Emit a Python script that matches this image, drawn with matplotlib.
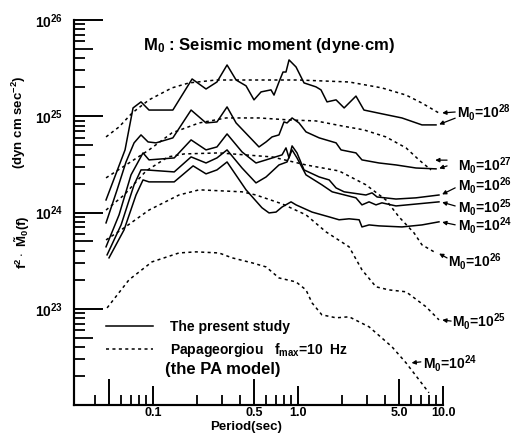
import matplotlib
matplotlib.use("Agg")
import matplotlib.pyplot as plt
from matplotlib.ticker import NullFormatter, NullLocator

plt.rcParams['font.family'] = ['Liberation Sans', 'DejaVu Sans']
plt.rcParams['font.weight'] = 'bold'
plt.rcParams['mathtext.fontset'] = 'custom'
plt.rcParams['mathtext.rm'] = 'Liberation Sans'
plt.rcParams['mathtext.bf'] = 'Liberation Sans:bold'
plt.rcParams['mathtext.it'] = 'Liberation Sans:italic'
plt.rcParams['mathtext.default'] = 'bf'

# ---- the present study (solid), period in s, f^2 M0(f) in dyn cm s^-2 ----
s28_T = [0.0474, 0.0641, 0.0728, 0.0826, 0.0938, 0.137, 0.186, 0.232, 0.276, 0.324,
         0.374, 0.438, 0.497, 0.556, 0.651, 0.683, 0.739, 0.788, 0.826, 0.867,
         0.969, 1.10, 1.33, 1.44, 1.585, 1.83, 2.08, 2.51, 2.85, 3.79, 5.21, 7.16, 8.95]
s28_V = [1.35e24, 4.47e24, 1.22e25, 1.41e25, 1.16e25, 1.16e25, 2.44e25, 1.92e25, 2.27e25, 3.41e25,
         2.38e25, 2.07e25, 1.48e25, 1.79e25, 1.88e25, 1.66e25, 2.27e25, 2.88e25, 2.88e25, 3.85e25,
         3.25e25, 2.22e25, 2.02e25, 1.88e25, 1.41e25, 1.48e25, 1.22e25, 1.62e25, 1.16e25, 1.06e25,
         9.6e24, 8.13e24, 8.13e24]

s27_T = [0.0474, 0.0565, 0.0651, 0.0740, 0.0826, 0.0924, 0.1049, 0.137, 0.183, 0.232,
         0.276, 0.324, 0.374, 0.538, 0.602, 0.662, 0.739, 0.800, 0.840, 0.910,
         1.016, 1.135, 1.40, 1.83, 1.98, 2.51, 2.76, 3.62, 4.74, 6.51, 8.95]
s27_V = [7.8e23, 1.72e24, 3.35e24, 5.29e24, 6.40e24, 5.41e24, 5.29e24, 5.96e24, 1.16e25, 8.52e24,
         8.73e24, 1.25e25, 8.52e24, 4.80e24, 5.41e24, 6.10e24, 6.40e24, 8.73e24, 8.52e24, 9.6e24,
         8.52e24, 6.88e24, 5.96e24, 5.29e24, 4.47e24, 4.16e24, 3.52e24, 3.27e24, 3.12e24, 2.90e24,
         2.84e24]

s26_T = [0.0474, 0.0583, 0.0705, 0.0853, 0.0938, 0.140, 0.183, 0.232, 0.276, 0.324,
         0.411, 0.513, 0.602, 0.776, 0.826, 0.867, 0.910, 0.984, 1.10, 1.40,
         1.64, 1.83, 2.08, 2.94, 3.24, 3.51, 4.74, 6.51, 9.38]
s26_V = [4.40e23, 9.45e23, 2.46e24, 4.16e24, 3.52e24, 3.69e24, 5.68e24, 4.47e24, 4.80e24, 6.55e24,
         4.26e24, 3.27e24, 3.52e24, 3.97e24, 4.69e24, 3.69e24, 4.92e24, 4.16e24, 2.77e24, 2.34e24,
         2.18e24, 1.80e24, 1.64e24, 1.52e24, 1.60e24, 1.45e24, 1.38e24, 1.42e24, 1.52e24]

s25_T = [0.0482, 0.0602, 0.0740, 0.0826, 0.0895, 0.140, 0.183, 0.232, 0.276, 0.324,
         0.411, 0.513, 0.602, 0.739, 0.840, 0.910, 0.984, 1.135, 1.46, 1.72,
         2.51, 2.76, 3.09, 3.45, 3.79, 4.74, 9.38]
s25_V = [3.63e23, 7.43e23, 1.94e24, 2.77e24, 2.77e24, 2.64e24, 3.78e24, 3.27e24, 3.69e24, 4.47e24,
         2.90e24, 2.03e24, 2.34e24, 3.12e24, 3.35e24, 4.47e24, 3.69e24, 2.46e24, 1.94e24, 1.64e24,
         1.42e24, 1.20e24, 1.29e24, 1.20e24, 1.26e24, 1.17e24, 1.29e24]

s24_T = [0.0497, 0.0631, 0.0763, 0.0853, 0.0938, 0.140, 0.189, 0.232, 0.276, 0.324,
         0.438, 0.564, 0.631, 0.705, 0.776, 0.895, 0.969, 1.25, 1.64, 1.92,
         2.25, 2.64, 2.76, 3.09, 3.62, 5.21, 7.16, 9.38]
s24_V = [3.38e23, 6.6e23, 1.52e24, 2.18e24, 2.08e24, 2.08e24, 3.05e24, 2.52e24, 2.77e24, 3.35e24,
         1.72e24, 1.12e24, 9.9e23, 1.01e24, 1.14e24, 1.29e24, 1.20e24, 1.01e24, 9.0e23, 8.4e23,
         8.6e23, 8.4e23, 7.08e23, 7.43e23, 7.26e23, 7.08e23, 7.43e23, 8.0e23]

# ---- Papageorgiou fmax = 10 Hz, PA model (dashed) ----
d28_T = [0.0474, 0.0583, 0.0717, 0.0938, 0.135, 0.177, 0.272, 0.538, 1.016, 2.25, 3.79, 5.56, 7.16, 9.38]
d28_V = [6.10e24, 7.75e24, 1.08e25, 1.48e25, 1.97e25, 2.22e25, 2.38e25, 2.38e25, 2.38e25, 2.27e25,
         1.97e25, 1.66e25, 1.37e25, 1.08e25]

d27_T = [0.0474, 0.0651, 0.0938, 0.135, 0.208, 0.319, 0.538, 0.867, 1.33, 2.01, 2.85, 4.04, 5.56, 6.83, 8.26]
d27_V = [2.29e24, 3.12e24, 4.47e24, 6.71e24, 8.52e24, 9.6e24, 9.6e24, 9.16e24, 8.94e24, 7.93e24,
         7.21e24, 6.10e24, 4.69e24, 3.52e24, 2.77e24]

d26_T = [0.0474, 0.0631, 0.0895, 0.127, 0.164, 0.285, 0.662, 1.135, 1.92, 2.94, 4.04, 4.97, 6.31, 7.16, 8.95]
d26_V = [1.06e24, 1.52e24, 2.70e24, 3.78e24, 4.06e24, 4.16e24, 3.78e24, 3.12e24, 2.70e24, 1.94e24,
         1.35e24, 9.0e23, 6.14e23, 4.61e23, 3.80e23]

d25_T = [0.0474, 0.0631, 0.0938, 0.151, 0.208, 0.411, 0.513, 0.776, 1.135, 1.56, 2.25, 2.76, 3.45,
         4.24, 5.56, 7.63, 9.38]
d25_V = [5.19e23, 6.92e23, 1.06e24, 1.52e24, 1.72e24, 1.64e24, 1.52e24, 1.23e24, 9.45e23, 6.29e23,
         4.40e23, 2.54e23, 1.69e23, 1.57e23, 1.50e23, 1.05e23, 7.67e22]

d24_T = [0.0482, 0.0683, 0.0984, 0.151, 0.198, 0.285, 0.351, 0.482, 0.602, 0.739, 0.969, 1.135, 1.25,
         1.46, 1.83, 2.25, 3.09, 4.45, 5.56, 6.83, 8.0]
d24_V = [1.02e23, 2.00e23, 3.07e23, 3.80e23, 3.90e23, 3.80e23, 3.38e23, 3.00e23, 2.72e23, 2.09e23,
         1.90e23, 1.57e23, 1.15e23, 8.65e22, 8.05e22, 8.25e22, 6.49e22, 4.02e22, 2.74e22, 1.83e22, 1.34e22]

solid = [(s28_T, s28_V), (s27_T, s27_V), (s26_T, s26_V), (s25_T, s25_V), (s24_T, s24_V)]
dashed = [(d28_T, d28_V), (d27_T, d27_V), (d26_T, d26_V), (d25_T, d25_V), (d24_T, d24_V)]

x_labelled = [0.1, 1.0, 10.0]
x_labels = ['0.1', '1.0', '10.0']
x_half = [0.05, 0.5, 5.0]
x_half_labels = ['', '0.5', '5.0']
x_minor = [0.04, 0.06, 0.07, 0.08, 0.09, 0.2, 0.3, 0.4, 0.6, 0.7, 0.8, 0.9,
           2, 3, 4, 6, 7, 8, 9]
y_major = [1e22, 1e23, 1e24, 1e25, 1e26]
y_labels = ['', '$10^{23}$', '$10^{24}$', '$10^{25}$', '$10^{26}$']
y_minor = [k * 10.0 ** e for e in range(22, 26) for k in (2, 3, 4, 6, 7, 8, 9)]
y_half = [5 * 10.0 ** e for e in range(22, 26)]

DASH = (0, (2.0, 2.2))
LW = 1.1
FS = 10

fig = plt.figure(figsize=(5.13, 4.36), dpi=100)
ax = fig.add_axes([74 / 513, 1 - 405 / 436, 369 / 513, 385 / 436])

for i, (T, V) in enumerate(solid):
    ax.plot(T, V, color='k', lw=LW, label='The present study' if i == 0 else '_nolegend_')
for i, (T, V) in enumerate(dashed):
    ax.plot(T, V, color='k', lw=LW, ls=DASH,
            label=r'Papageorgiou   f$_{max}$=10  Hz' if i == 0 else '_nolegend_')

ax.set_xscale('log')
ax.set_yscale('log')
ax.set_xlim(0.0285, 10.0)
ax.set_ylim(1e22, 1e26)
for s in ['top', 'right']:
    ax.spines[s].set_visible(False)
for s in ['left', 'bottom']:
    ax.spines[s].set_linewidth(1.5)

ax.set_xticks(x_labelled, x_labels)
ax.set_xticks(x_minor, minor=True)
ax.xaxis.set_minor_formatter(NullFormatter())
ax.tick_params(axis='x', which='major', direction='in', length=14, width=1.4, labelsize=9, pad=1.5)
ax.tick_params(axis='x', which='minor', direction='in', length=7, width=1.3)

ax.set_yticks(y_major, y_labels)
ax.set_yticks(y_minor, minor=True)
ax.yaxis.set_minor_formatter(NullFormatter())
ax.tick_params(axis='y', which='major', direction='in', length=21, width=1.4, labelsize=FS, pad=8)
ax.tick_params(axis='y', which='minor', direction='in', length=8, width=1.3)

# longer ticks at 5 x decade
secx = ax.secondary_xaxis('bottom')
secx.set_xticks(x_half, x_half_labels)
secx.xaxis.set_minor_locator(NullLocator())
secx.tick_params(direction='in', length=19, width=1.4, labelsize=9, pad=1.5)
secx.spines['bottom'].set_linewidth(1.5)

secy = ax.secondary_yaxis('left')
secy.set_yticks(y_half, ['' for _ in y_half])
secy.yaxis.set_minor_locator(NullLocator())
secy.tick_params(direction='in', length=14, width=1.3)
secy.spines['left'].set_linewidth(1.5)

ax.set_xlabel('Period(sec)', fontsize=9.5, fontweight='bold')
ax.xaxis.set_label_coords(0.467, -0.041)

fig.text(0.036, 1 - 122 / 436, r'(dyn cm sec$^{-2}$)', rotation=90, ha='center', va='center', fontsize=9.5)
fig.text(0.043, 1 - 242 / 436, r'f$^{2}\cdot\ \tilde{M}_0$(f)', rotation=90, ha='center', va='center', fontsize=9.5)

ax.text(0.528, 0.935, r'M$_0$ : Seismic moment (dyne$\cdot$cm)', transform=ax.transAxes,
        ha='center', va='center', fontsize=12)

ax.legend(loc='upper left', bbox_to_anchor=(0.087, 0.222), frameon=False, borderpad=0,
          borderaxespad=0, handlelength=3.4, handletextpad=1.2, labelspacing=0.55,
          prop={'weight': 'bold', 'size': FS})
ax.text(0.247, 0.091, '(the PA model)', transform=ax.transAxes, ha='left', va='center', fontsize=12)


def arrow(tip, tail, tipcoords='data'):
    ax.annotate('', xy=tip, xycoords=tipcoords, xytext=tail, textcoords='axes fraction',
                arrowprops=dict(arrowstyle='-|>', color='k', lw=0.9, mutation_scale=6,
                                shrinkA=0, shrinkB=1),
                annotation_clip=False)


def end(T, V):
    return (T[-1] * 1.03, V[-1])


labels = [
    ('M$_0$=10$^{28}$', (1.038, 0.761)),
    ('M$_0$=10$^{27}$', (1.041, 0.623)),
    ('M$_0$=10$^{26}$', (1.041, 0.571)),
    ('M$_0$=10$^{25}$', (1.041, 0.514)),
    ('M$_0$=10$^{24}$', (1.041, 0.465)),
    ('M$_0$=10$^{26}$', (1.014, 0.374)),
    ('M$_0$=10$^{25}$', (1.024, 0.216)),
    ('M$_0$=10$^{24}$', (0.946, 0.109)),
]
for txt, pos in labels:
    ax.text(pos[0], pos[1], txt, transform=ax.transAxes, ha='left', va='center',
            fontsize=FS, clip_on=False)

arrow(end(d28_T, d28_V), (1.033, 0.761))
arrow(end(s28_T, s28_V), (1.033, 0.745))
arrow((0.975, 0.636), (1.011, 0.636), tipcoords='axes fraction')
arrow(end(s27_T, s27_V), (1.011, 0.621))
arrow(end(s26_T, s26_V), (1.033, 0.564))
arrow(end(s25_T, s25_V), (1.033, 0.517))
arrow(end(s24_T, s24_V), (1.033, 0.468))
arrow(end(d26_T, d26_V), (1.011, 0.382))
arrow(end(d25_T, d25_V), (1.022, 0.218))
arrow((0.911, 0.109), (0.940, 0.112), tipcoords='axes fraction')

fig.savefig('out.png', dpi=100)
